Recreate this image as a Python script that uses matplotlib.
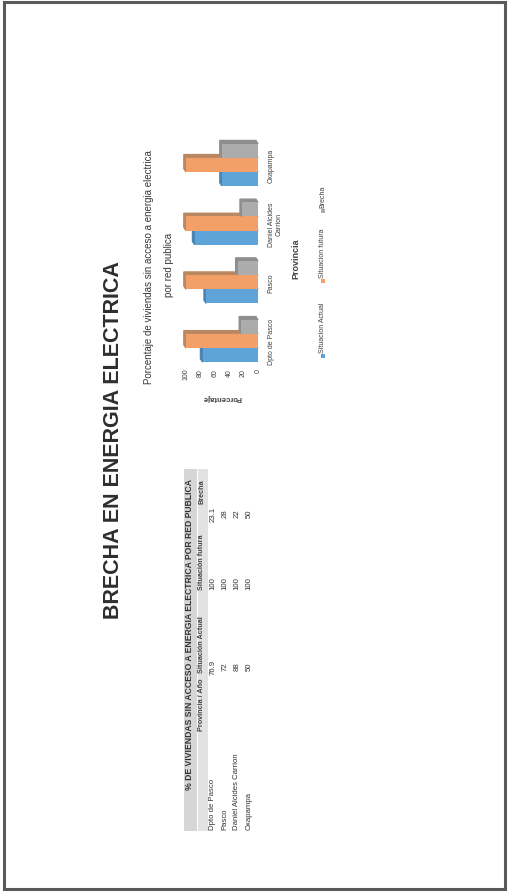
import numpy as np
import matplotlib
matplotlib.use("Agg")
import matplotlib.pyplot as plt
from matplotlib.patches import Rectangle, Polygon

plt.rcParams['font.family'] = ['Liberation Sans', 'DejaVu Sans']

# ---------------------------------------------------------------
# data
provincias = ['Dpto de Pasco', 'Pasco', 'Daniel Alcides Carrion', 'Oxapampa']
prov_chart = ['Dpto de Pasco', 'Pasco', 'Daniel Alcides\nCarrion', 'Oxapampa']
sit_actual = [76.9, 72, 88, 50]
sit_futura = [100, 100, 100, 100]
brecha = [23.1, 28, 22, 50]

series_names = ['Situacion Actual', 'Situacion futura', 'Brecha']
col_headers = ['Provincia / Año', 'Situación Actual', 'Situación futura', 'Brecha']
colors = ['#5ea4d8', '#f2a068', '#acacac']
darker = ['#4a86b4', '#b98860', '#8e8e8e']

# ---------------------------------------------------------------
W, H = 510, 895
fig = plt.figure(figsize=(W / 100, H / 100), dpi=100)


def fx(x):
    return x / W


def fy(y):
    return 1 - y / H


# page border
fig.patches.append(Rectangle((fx(4), fy(890)), (505 - 4) / W, (890 - 3) / H,
                             transform=fig.transFigure, fill=False,
                             lw=2.2, ec='#5a5a5a'))

# slide title
fig.text(fx(114), fy(440), 'BRECHA EN ENERGIA ELECTRICA', rotation=90,
         ha='center', va='center', fontsize=15.5, fontweight='bold',
         color='#2e2e2e')

## table ----------------------------------------------------------
fig.patches.append(Rectangle((fx(184), fy(832)), 13 / W, (832 - 470) / H,
                             transform=fig.transFigure, color='#d6d6d6', lw=0))
fig.patches.append(Rectangle((fx(198), fy(832)), 10 / W, (832 - 470) / H,
                             transform=fig.transFigure, color='#e2e2e2', lw=0))
fig.text(fx(190), fy(635), '% DE VIVIENDAS SIN ACCESO A ENERGIA ELECTRICA POR RED PUBLICA',
         rotation=90, ha='center', va='center', fontsize=6.2, fontweight='bold',
         color='#333333')

col_y = [705, 645, 562, 492]
for txt, yy in zip(col_headers, col_y):
    fig.text(fx(202), fy(yy), txt, rotation=90, ha='center', va='center',
             fontsize=5.2, fontweight='bold', color='#444444')

row_x = [213, 225, 237, 249]
for i, xx in enumerate(row_x):
    fig.text(fx(xx), fy(830), provincias[i], rotation=90, ha='center', va='bottom',
             fontsize=5.6, color='#333333')
    for vals, yy in zip([sit_actual, sit_futura, brecha], col_y[1:]):
        fig.text(fx(xx), fy(yy + 22), f'{vals[i]:g}', rotation=90, ha='center',
                 va='center', fontsize=5.6, color='#333333')

## chart ----------------------------------------------------------
ax = fig.add_axes([fx(186), fy(366), (258 - 186) / W, (366 - 140) / H])
y = np.arange(len(prov_chart))
bw = 0.24
dx, dy = 3.0, 0.055   # fake 3D depth

for k, vals in enumerate([sit_actual, sit_futura, brecha]):
    yy = y + (k - 1) * bw
    ax.barh(yy, vals, height=bw, color=colors[k], zorder=3 + k)
    for yc, v in zip(yy, vals):
        top = yc + bw / 2
        bot = yc - bw / 2
        side = Polygon([(0, top), (v, top), (v + dx, top + dy), (dx, top + dy)],
                       closed=True, color=darker[k], zorder=2.5 + k, clip_on=False)
        cap = Polygon([(v, bot), (v, top), (v + dx, top + dy), (v + dx, bot + dy)],
                      closed=True, color=darker[k], zorder=2.5 + k, clip_on=False)
        ax.add_patch(side)
        ax.add_patch(cap)

ax.set_xlim(100, 0)
ax.set_ylim(-0.41, 3.44)
ax.set_xticks([0, 20, 40, 60, 80, 100])
ax.tick_params(axis='x', labelrotation=90, length=0, labelsize=5, pad=2,
               labelcolor='#404040')
ax.yaxis.tick_right()
ax.set_yticks(y)
ax.set_yticklabels(prov_chart)
ax.tick_params(axis='y', labelrotation=90, length=0, labelsize=5, pad=7,
               labelcolor='#404040')
for lab in ax.get_yticklabels():
    lab.set_multialignment('center')
    lab.set_va('center')
for s in ax.spines.values():
    s.set_visible(False)
ax.patch.set_alpha(0)

fig.text(fx(222), fy(398), 'Porcentaje', rotation=180, ha='center', va='center',
         fontsize=5.5, fontweight='bold', color='#404040')
fig.text(fx(149), fy(267), 'Porcentaje de viviendas sin acceso a energia electrica',
         rotation=90, ha='center', va='center', fontsize=7, color='#383838')
fig.text(fx(169), fy(265), 'por red publica', rotation=90, ha='center',
         va='center', fontsize=7, color='#383838')
fig.text(fx(296), fy(259), 'Provincia', rotation=90, ha='center', va='center',
         fontsize=6.5, fontweight='bold', color='#404040')

# legend, drawn by hand because it is rotated
leg_marker_y = [357, 282, 212]
for name, col, my in zip(series_names, colors, leg_marker_y):
    fig.patches.append(Rectangle((fx(321), fy(my + 2)), 4 / W, 4 / H,
                                 transform=fig.transFigure, color=col, lw=0))
    fig.text(fx(323), fy(my - 4), name, rotation=90, ha='center', va='bottom',
             fontsize=5, color='#404040')

fig.savefig('out.png', dpi=100, facecolor='white')
